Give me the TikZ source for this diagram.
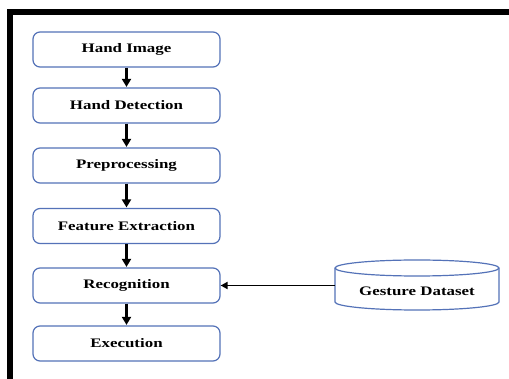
\documentclass[tikz,border=0pt]{standalone}
\usepackage{fontspec}
\setmainfont{Liberation Serif}[FakeStretch=1.3]
\usetikzlibrary{arrows.meta}
\definecolor{boxblue}{RGB}{84,114,184}
\tikzset{
  stepbox/.style={draw=boxblue, line width=1.2pt, rounded corners=7pt, minimum width=187pt, minimum height=35pt, inner sep=0pt, font=\fontsize{13}{15}\selectfont\bfseries, fill=white},
  flow/.style={line width=2.6pt, -{Triangle[length=8pt,width=9pt]}, shorten >=0.5pt},
  dbtext/.style={font=\fontsize{13}{15}\selectfont\bfseries, inner sep=0pt}
}
\begin{document}
\begin{tikzpicture}[x=1pt,y=-1pt]
\useasboundingbox (0,0) rectangle (509,379);
\fill[white] (0,0) rectangle (509,379);
% frame
\fill[black] (7,9) rectangle (509,15);
\fill[black] (7,9) rectangle (13,379);
% boxes
\node[stepbox] (img) at (126.5,49.5) {Hand Image};
\node[stepbox] (det) at (126.5,105.5) {Hand Detection};
\node[stepbox] (pre) at (126.5,165.5) {Preprocessing};
\node[stepbox] (fea) at (126.5,226) {Feature Extraction};
\node[stepbox] (rec) at (126.5,285.5) {Recognition};
\node[stepbox] (exe) at (126.5,343.5) {Execution};
% cylinder
\draw[boxblue, line width=1.2pt, fill=white]
  (335,268) -- (335,302) arc[start angle=180, end angle=360, x radius=82pt, y radius=8pt]
  -- (499,268) arc[start angle=0, end angle=180, x radius=82pt, y radius=8pt] -- cycle;
\draw[boxblue, line width=1.2pt] (335,268) arc[start angle=180, end angle=360, x radius=82pt, y radius=8pt];
\coordinate (dbl) at (335,285.5);
\node[dbtext] (db) at (417,291) {Gesture Dataset};
% arrows
\draw[flow] (img) -- (det);
\draw[flow] (det) -- (pre);
\draw[flow] (pre) -- (fea);
\draw[flow] (fea) -- (rec);
\draw[flow] (rec) -- (exe);
\draw[line width=1.8pt, -{Triangle[length=7pt,width=7pt]}] (dbl) -- (rec.east);
\end{tikzpicture}
\end{document}
